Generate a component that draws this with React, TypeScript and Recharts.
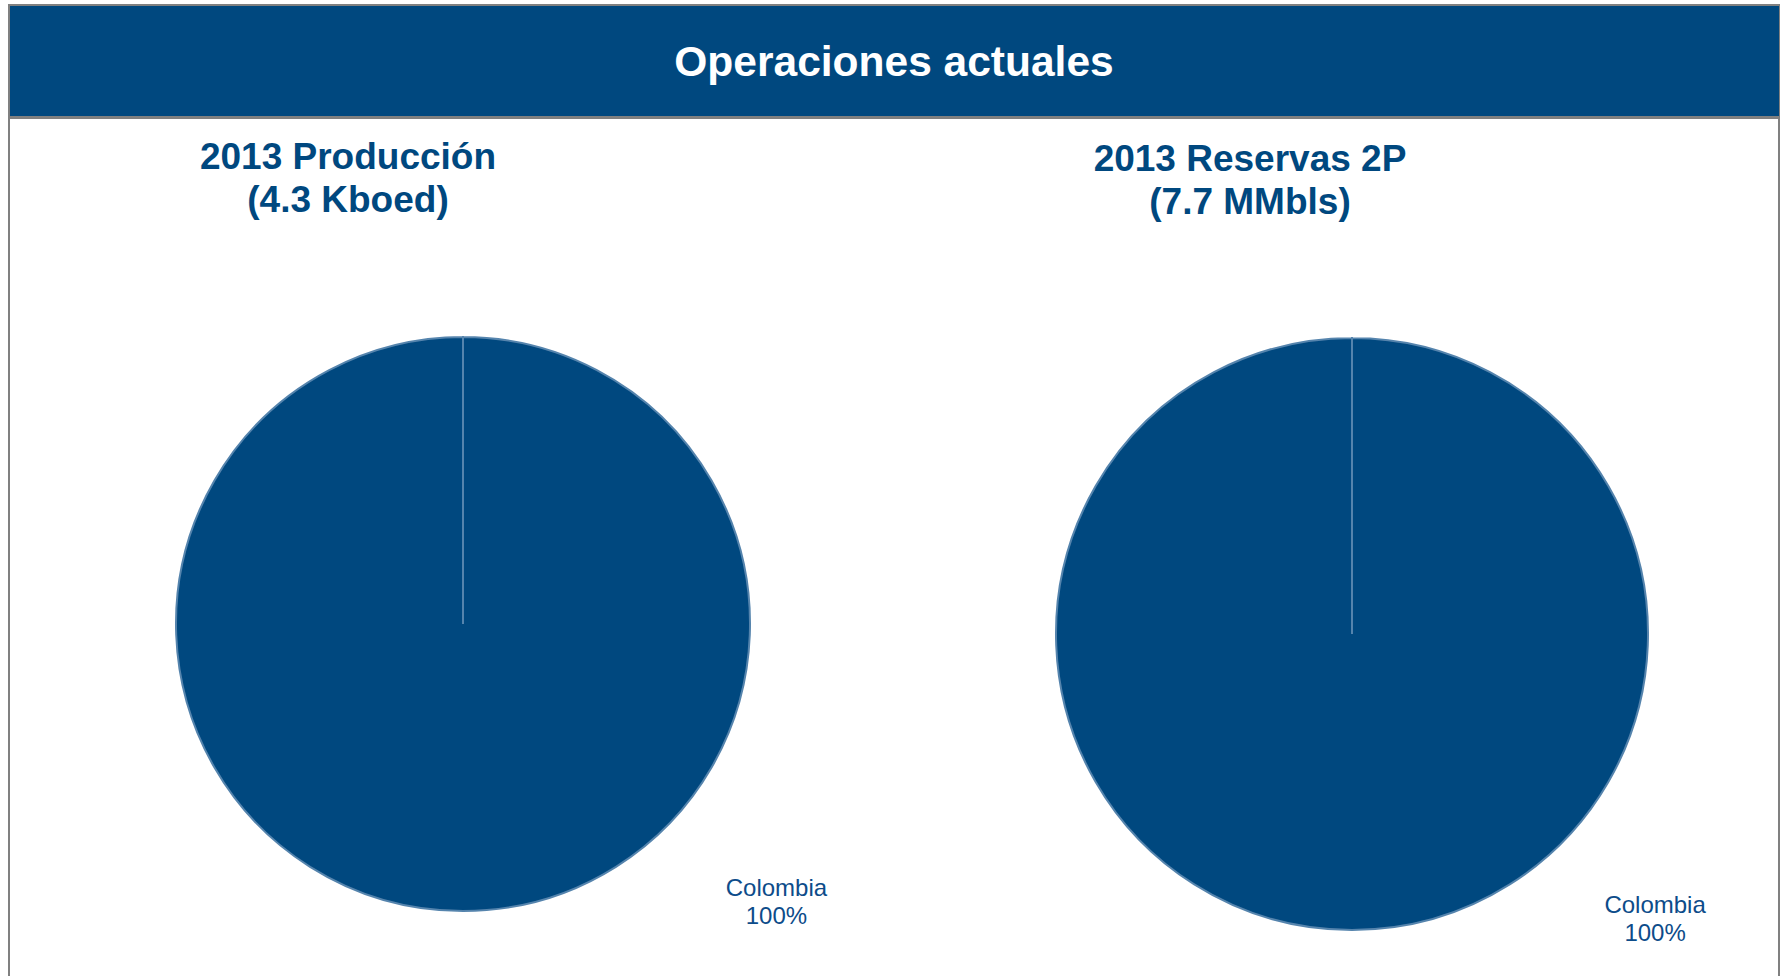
import React from "react";
import { PieChart, Pie, Cell } from "recharts";

const HEADER_TITLE = "Operaciones actuales";
const PRODUCTION_TITLE = ["2013 Producción", "(4.3 Kboed)"];
const RESERVES_TITLE = ["2013 Reservas 2P", "(7.7 MMbls)"];

const productionCountries = ["Colombia"];
const productionShare = [100];
const reservesCountries = ["Colombia"];
const reservesShare = [100];

const BLUE = "#00487F";
const LABEL_BLUE = "#0D4C8A";
const EDGE = "#5584ad";
const FRAME_GRAY = "#808080";
const FONT = '"Liberation Sans", Arial, sans-serif';

const productionData = productionCountries.map((name, i) => ({ name, value: productionShare[i] }));
const reservesData = reservesCountries.map((name, i) => ({ name, value: reservesShare[i] }));

// label sits outside the pie, down-right, like the original deck
function makeLabel(fx: number, fy: number) {
  return (props: any) => {
    const { cx, cy, outerRadius, name, percent } = props;
    const x = cx + outerRadius * fx;
    const y = cy + outerRadius * fy;
    return (
      <text
        x={x}
        y={y}
        textAnchor="middle"
        fill={LABEL_BLUE}
        fontFamily={FONT}
        fontSize={24}
      >
        <tspan x={x}>{name}</tspan>
        <tspan x={x} dy={28}>{`${Math.round(percent * 100)}%`}</tspan>
      </text>
    );
  };
}

function Subtitle({ lines, left, top }: { lines: string[]; left: number; top: number }) {
  return (
    <div
      style={{
        position: "absolute",
        left: left - 300,
        top,
        width: 600,
        textAlign: "center",
        fontFamily: FONT,
        fontWeight: "bold",
        fontSize: 37,
        lineHeight: "43px",
        color: BLUE,
      }}
    >
      {lines.map((l) => (
        <div key={l}>{l}</div>
      ))}
    </div>
  );
}

export default function App() {
  return (
    <div
      style={{
        position: "absolute",
        left: 0,
        top: 0,
        width: 1780,
        height: 976,
        overflow: "hidden",
        background: "#fff",
      }}
    >
      {/* outer frame */}
      <div
        style={{
          position: "absolute",
          left: 8,
          top: 4,
          width: 1772,
          height: 1000,
          border: `2px solid ${FRAME_GRAY}`,
          boxSizing: "border-box",
        }}
      />
      {/* header bar */}
      <div
        style={{
          position: "absolute",
          left: 10,
          top: 6,
          width: 1769,
          height: 110,
          background: BLUE,
          borderBottom: `3px solid ${FRAME_GRAY}`,
        }}
      />
      <div
        style={{
          position: "absolute",
          left: 494,
          top: 37,
          width: 800,
          textAlign: "center",
          fontFamily: FONT,
          fontWeight: "bold",
          fontSize: 42.5,
          lineHeight: "50px",
          color: "#ffffff",
        }}
      >
        {HEADER_TITLE}
      </div>

      <Subtitle lines={PRODUCTION_TITLE} left={348} top={135} />
      <Subtitle lines={RESERVES_TITLE} left={1250} top={137} />

      <div style={{ position: "absolute", left: 0, top: 0 }}>
        <PieChart width={1780} height={976} margin={{ top: 0, right: 0, bottom: 0, left: 0 }}>
          <Pie
            data={productionData}
            dataKey="value"
            nameKey="name"
            cx={463}
            cy={624}
            outerRadius={287}
            startAngle={90}
            endAngle={-270}
            stroke={EDGE}
            strokeWidth={2}
            labelLine={false}
            label={makeLabel(1.092, 0.948)}
            isAnimationActive={false}
          >
            {productionData.map((d) => (
              <Cell key={d.name} fill={BLUE} />
            ))}
          </Pie>
          <Pie
            data={reservesData}
            dataKey="value"
            nameKey="name"
            cx={1352}
            cy={634}
            outerRadius={296}
            startAngle={90}
            endAngle={-270}
            stroke={EDGE}
            strokeWidth={2}
            labelLine={false}
            label={makeLabel(1.024, 0.943)}
            isAnimationActive={false}
          >
            {reservesData.map((d) => (
              <Cell key={d.name} fill={BLUE} />
            ))}
          </Pie>
        </PieChart>
      </div>
    </div>
  );
}
